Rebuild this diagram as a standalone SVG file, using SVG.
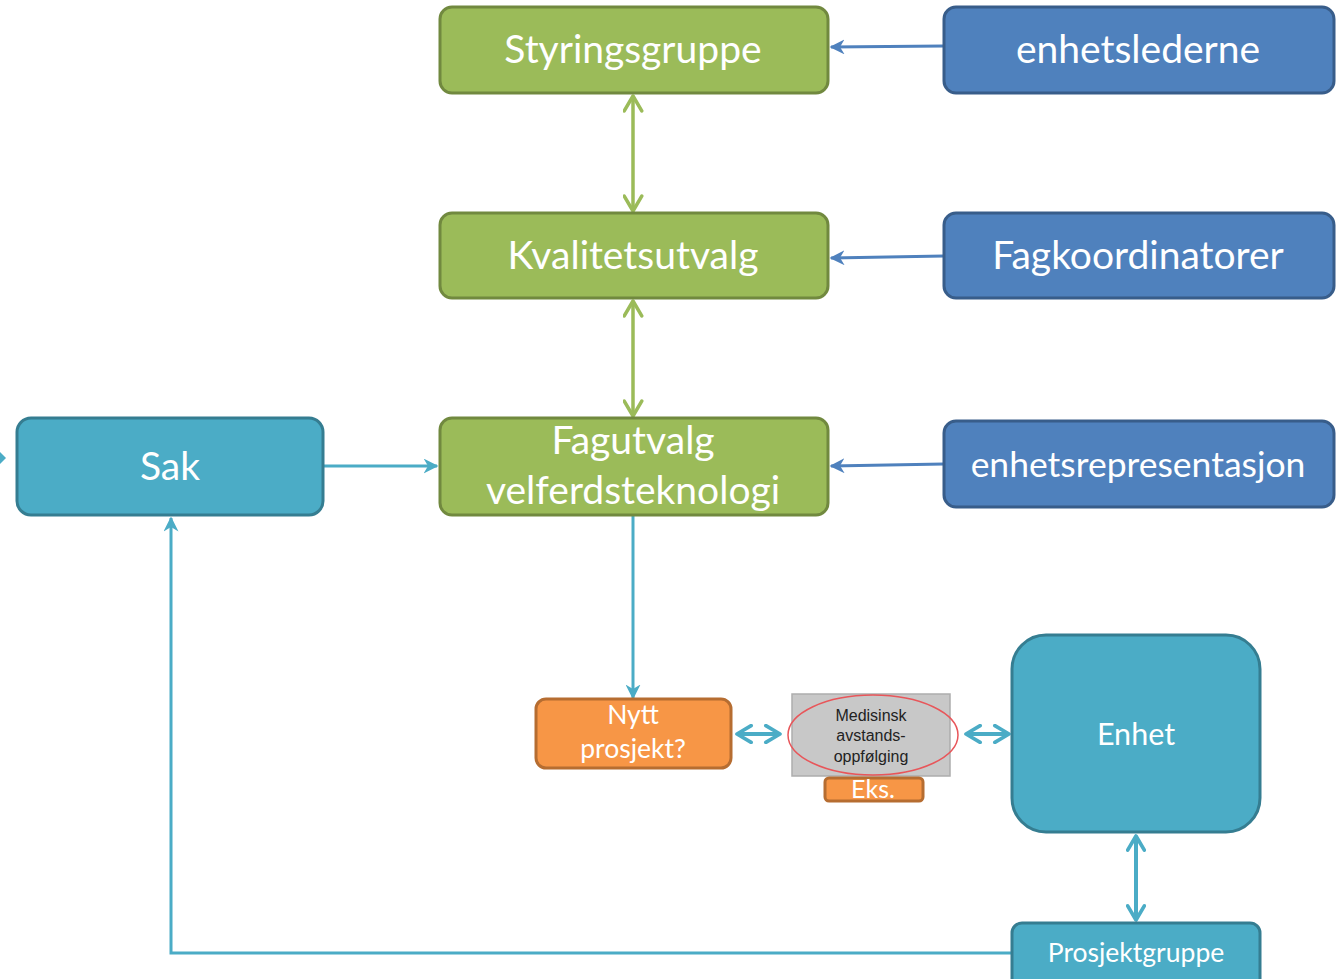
<svg xmlns="http://www.w3.org/2000/svg" width="1344" height="979" viewBox="0 0 1344 979">
<style>
.g{fill:#9BBB59;stroke:#71893F;stroke-width:3}
.b{fill:#4F81BD;stroke:#385D8A;stroke-width:3}
.t{fill:#4BACC6;stroke:#357D91;stroke-width:3}
.o{fill:#F79646;stroke:#B66D31;stroke-width:3}
.lbl{font-family:Lato,"Open Sans",sans-serif;fill:#fff;text-anchor:middle}
.big{font-size:39px}
.sm{font-family:"Liberation Sans",Arial,sans-serif;font-size:16px;fill:#222;text-anchor:middle}
.lg{stroke:#9BBB59;stroke-width:3.5;fill:none}
.lb{stroke:#4F81BD;stroke-width:3;fill:none}
.lt{stroke:#4BACC6;stroke-width:3;fill:none}
.lt4{stroke:#4BACC6;stroke-width:4;fill:none}
</style>
<defs>
<marker id="ab" viewBox="0 0 10 10" refX="9" refY="5" markerWidth="5" markerHeight="5" orient="auto-start-reverse"><path d="M0,0 L10,5 L0,10 L3,5 Z" fill="#4F81BD"/></marker>
<marker id="at" viewBox="0 0 10 10" refX="9" refY="5" markerWidth="5" markerHeight="5" orient="auto-start-reverse"><path d="M0,0 L10,5 L0,10 L3,5 Z" fill="#4BACC6"/></marker>
<marker id="vg" viewBox="0 0 12 12" refX="10.5" refY="6" markerWidth="6" markerHeight="6" orient="auto-start-reverse"><path d="M2,1 L10.5,6 L2,11" fill="none" stroke="#9BBB59" stroke-width="2" stroke-linecap="round" stroke-linejoin="round"/></marker>
<marker id="vt" viewBox="0 0 12 12" refX="10.5" refY="6" markerWidth="5" markerHeight="5" orient="auto-start-reverse"><path d="M2,1 L10.5,6 L2,11" fill="none" stroke="#4BACC6" stroke-width="2.2" stroke-linecap="round" stroke-linejoin="round"/></marker>
</defs>
<rect width="1344" height="979" fill="#fff"/>
<g id="connectors">
<line class="lb" x1="944" y1="46" x2="831" y2="47" marker-end="url(#ab)"/>
<line class="lb" x1="944" y1="256" x2="831" y2="258" marker-end="url(#ab)"/>
<line class="lb" x1="944" y1="464" x2="831" y2="466" marker-end="url(#ab)"/>
<line class="lg" x1="633" y1="96" x2="633" y2="211" marker-start="url(#vg)" marker-end="url(#vg)"/>
<line class="lg" x1="633" y1="301" x2="633" y2="416" marker-start="url(#vg)" marker-end="url(#vg)"/>
<line class="lt" x1="324" y1="466" x2="437" y2="466" marker-end="url(#at)"/>
<line class="lt" x1="633" y1="516" x2="633" y2="698" marker-end="url(#at)"/>
<line class="lt4" x1="737" y1="734" x2="780" y2="734" marker-start="url(#vt)" marker-end="url(#vt)"/>
<line class="lt4" x1="966" y1="734" x2="1009" y2="734" marker-start="url(#vt)" marker-end="url(#vt)"/>
<line class="lt4" x1="1136" y1="836" x2="1136" y2="920" marker-start="url(#vt)" marker-end="url(#vt)"/>
<polyline class="lt" points="1012,953 171,953 171,518" marker-end="url(#at)"/>
<path d="M0,452 L6,458 L0,464 Z" fill="#4BACC6"/>
</g>
<g id="n-styringsgruppe"><rect class="g" x="440" y="7" width="388" height="86" rx="12"/><text class="lbl big" x="633" y="63">Styringsgruppe</text></g>
<g id="n-enhetslederne"><rect class="b" x="944" y="7" width="390" height="86" rx="12"/><text class="lbl big" x="1138" y="63">enhetslederne</text></g>
<g id="n-kvalitetsutvalg"><rect class="g" x="440" y="213" width="388" height="85" rx="12"/><text class="lbl big" x="633" y="269">Kvalitetsutvalg</text></g>
<g id="n-fagkoordinatorer"><rect class="b" x="944" y="213" width="390" height="85" rx="12"/><text class="lbl big" x="1138" y="269">Fagkoordinatorer</text></g>
<g id="n-fagutvalg"><rect class="g" x="440" y="418" width="388" height="97" rx="12"/><text class="lbl big" x="633" y="454">Fagutvalg</text><text class="lbl big" x="633" y="504">velferdsteknologi</text></g>
<g id="n-enhetsrep"><rect class="b" x="944" y="421" width="390" height="86" rx="12"/><text class="lbl" style="font-size:35.5px" x="1138" y="477">enhetsrepresentasjon</text></g>
<g id="n-sak"><rect class="t" x="17" y="418" width="306" height="97" rx="14"/><text class="lbl big" x="170" y="480">Sak</text></g>
<g id="n-nytt"><rect class="o" x="536" y="699" width="195" height="69" rx="10"/><text class="lbl" style="font-size:26.5px" x="633" y="724">Nytt</text><text class="lbl" style="font-size:26.5px" x="633" y="758">prosjekt?</text></g>
<g id="n-medisinsk"><rect x="792" y="694" width="158" height="82" fill="#C8C8C8" stroke="#ADADAD" stroke-width="1.5"/><ellipse cx="873" cy="735" rx="85" ry="40" fill="none" stroke="#E8565A" stroke-width="1.5"/><text class="sm" x="871" y="721">Medisinsk</text><text class="sm" x="871" y="741">avstands-</text><text class="sm" x="871" y="762">oppfølging</text></g>
<g id="n-eks"><rect class="o" x="825" y="778" width="98" height="23" rx="4"/><text class="lbl" style="font-size:25px" x="873" y="798">Eks.</text></g>
<g id="n-enhet"><rect class="t" x="1012" y="635" width="248" height="197" rx="34"/><text class="lbl" style="font-size:30.5px" x="1136" y="745">Enhet</text></g>
<g id="n-prosjektgruppe"><rect class="t" x="1012" y="923" width="248" height="70" rx="10"/><text class="lbl" style="font-size:26.5px" x="1136" y="962">Prosjektgruppe</text></g>
</svg>
